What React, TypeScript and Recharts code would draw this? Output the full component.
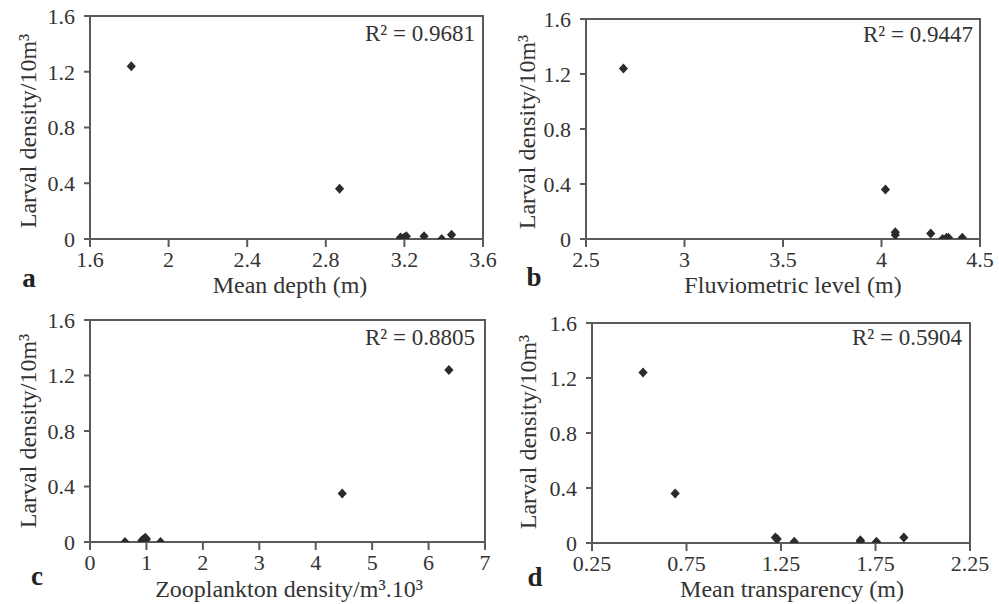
import React from 'react';
import {
  ScatterChart,
  Scatter,
  XAxis,
  YAxis,
  ReferenceArea,
} from 'recharts';

// panel a: mean depth
const depthX = [1.81, 2.87, 3.18, 3.19, 3.2, 3.21, 3.3, 3.39, 3.44];
const depthY = [1.24, 0.36, 0.01, 0.0, 0.01, 0.02, 0.02, 0.0, 0.03];

// panel b: fluviometric level
const fluvX = [2.69, 4.02, 4.07, 4.07, 4.25, 4.31, 4.33, 4.34, 4.41];
const fluvY = [1.24, 0.36, 0.05, 0.03, 0.04, 0.0, 0.01, 0.01, 0.01];

// panel c: zooplankton density
const zooX = [6.36, 4.47, 0.62, 0.92, 0.95, 0.98, 1.0, 1.25, 0.95];
const zooY = [1.24, 0.35, 0.0, 0.01, 0.02, 0.03, 0.02, 0.0, 0.01];

// panel d: mean transparency
const transpX = [0.52, 0.69, 1.22, 1.23, 1.32, 1.67, 1.67, 1.755, 1.9];
const transpY = [1.24, 0.36, 0.04, 0.03, 0.01, 0.02, 0.01, 0.01, 0.04];

const yTicks = [0, 0.4, 0.8, 1.2, 1.6];
const depthTicks = [1.6, 2, 2.4, 2.8, 3.2, 3.6];
const fluvTicks = [2.5, 3, 3.5, 4, 4.5];
const zooTicks = [0, 1, 2, 3, 4, 5, 6, 7];
const transpTicks = [0.25, 0.75, 1.25, 1.75, 2.25];

const FONT = "'Liberation Serif', 'Times New Roman', serif";
const AXIS = '#5a5a5a';
const INK = '#2b2b2b';
const X_AXIS_H = 40;

const toPoints = (xs: number[], ys: number[]) => xs.map((x, i) => ({ x, y: ys[i] }));

const Diamond = (props: any) => {
  const { cx, cy } = props;
  if (cx == null || cy == null) return null;
  const w = 4.6;
  const h = 5;
  return (
    <polygon
      points={`${cx},${cy - h} ${cx + w},${cy} ${cx},${cy + h} ${cx - w},${cy}`}
      fill={INK}
    />
  );
};

type Box = { left: number; top: number; w: number; h: number };
type Plot = { left: number; top: number; right: number; bottom: number };

function Panel({ box, plot, xTicks, data }: { box: Box; plot: Plot; xTicks: number[]; data: { x: number; y: number }[] }) {
  const xDomain = [xTicks[0], xTicks[xTicks.length - 1]];
  const margin = {
    top: plot.top - box.top,
    right: box.left + box.w - plot.right,
    bottom: box.top + box.h - plot.bottom - X_AXIS_H,
    left: 0,
  };
  const tickStyle = { fontFamily: FONT, fontSize: 22, fill: '#333' };
  return (
    <div style={{ position: 'absolute', left: box.left, top: box.top }}>
      <ScatterChart width={box.w} height={box.h} margin={margin}>
        <XAxis
          type="number"
          dataKey="x"
          domain={xDomain}
          ticks={xTicks}
          allowDataOverflow
          height={X_AXIS_H}
          tick={tickStyle}
          tickSize={8}
          tickMargin={4}
          stroke={AXIS}
          strokeWidth={2}
          interval={0}
        />
        <YAxis
          type="number"
          dataKey="y"
          domain={[0, 1.6]}
          ticks={yTicks}
          allowDataOverflow
          width={plot.left - box.left}
          tick={tickStyle}
          tickSize={6}
          tickMargin={9}
          stroke={AXIS}
          strokeWidth={2}
          interval={0}
          tickFormatter={(v: number) => String(v)}
        />
        <ReferenceArea
          x1={xDomain[0]}
          x2={xDomain[1]}
          y1={0}
          y2={1.6}
          fill="none"
          fillOpacity={0}
          stroke={AXIS}
          strokeWidth={2}
          strokeOpacity={1}
        />
        <Scatter data={data} shape={<Diamond />} isAnimationActive={false} />
      </ScatterChart>
    </div>
  );
}

const panels = [
  {
    key: 'a',
    box: { left: 0, top: 0, w: 500, h: 300 },
    plot: { left: 90, top: 16, right: 483, bottom: 239 },
    xTicks: depthTicks,
    data: toPoints(depthX, depthY),
    r2: 'R² = 0.9681', r2x: 475, r2y: 41,
    title: 'Mean depth (m)', tx: 290, ty: 293,
    letterX: 29, letterY: 287,
    yLabX: 36, yLabY: 131,
  },
  {
    key: 'b',
    box: { left: 500, top: 0, w: 499, h: 300 },
    plot: { left: 586, top: 19, right: 980, bottom: 239 },
    xTicks: fluvTicks,
    data: toPoints(fluvX, fluvY),
    r2: 'R² = 0.9447', r2x: 973, r2y: 42,
    title: 'Fluviometric level (m)', tx: 793, ty: 293,
    letterX: 534, letterY: 286,
    yLabX: 535, yLabY: 132,
  },
  {
    key: 'c',
    box: { left: 0, top: 300, w: 500, h: 304 },
    plot: { left: 90, top: 320, right: 485, bottom: 542 },
    xTicks: zooTicks,
    data: toPoints(zooX, zooY),
    r2: 'R² = 0.8805', r2x: 475, r2y: 345,
    title: 'Zooplankton density/m³.10³', tx: 289, ty: 597,
    letterX: 37, letterY: 585,
    yLabX: 36, yLabY: 431,
  },
  {
    key: 'd',
    box: { left: 500, top: 300, w: 499, h: 304 },
    plot: { left: 592, top: 323, right: 970, bottom: 543 },
    xTicks: transpTicks,
    data: toPoints(transpX, transpY),
    r2: 'R² = 0.5904', r2x: 962, r2y: 345,
    title: 'Mean transparency (m)', tx: 792, ty: 597,
    letterX: 535, letterY: 586,
    yLabX: 536, yLabY: 432,
  },
];

export default function App() {
  return (
    <div style={{ position: 'absolute', left: 0, top: 0, width: 999, height: 604, background: '#fff' }}>
      {panels.map((p) => (
        <Panel key={p.key} box={p.box} plot={p.plot} xTicks={p.xTicks} data={p.data} />
      ))}
      <svg
        width={999}
        height={604}
        style={{ position: 'absolute', left: 0, top: 0, pointerEvents: 'none' }}
        fontFamily={FONT}
      >
        {panels.map((p) => (
          <g key={p.key} fill="#333">
            <text x={p.r2x} y={p.r2y} fontSize={23} textAnchor="end">
              {p.r2}
            </text>
            <text x={p.tx} y={p.ty} fontSize={24} textAnchor="middle">
              {p.title}
            </text>
            <text x={p.letterX} y={p.letterY} fontSize={27} fontWeight="bold" textAnchor="middle" fill="#222">
              {p.key}
            </text>
            <text
              transform={`translate(${p.yLabX},${p.yLabY}) rotate(-90)`}
              fontSize={24}
              textAnchor="middle"
            >
              Larval density/10m³
            </text>
          </g>
        ))}
      </svg>
    </div>
  );
}
